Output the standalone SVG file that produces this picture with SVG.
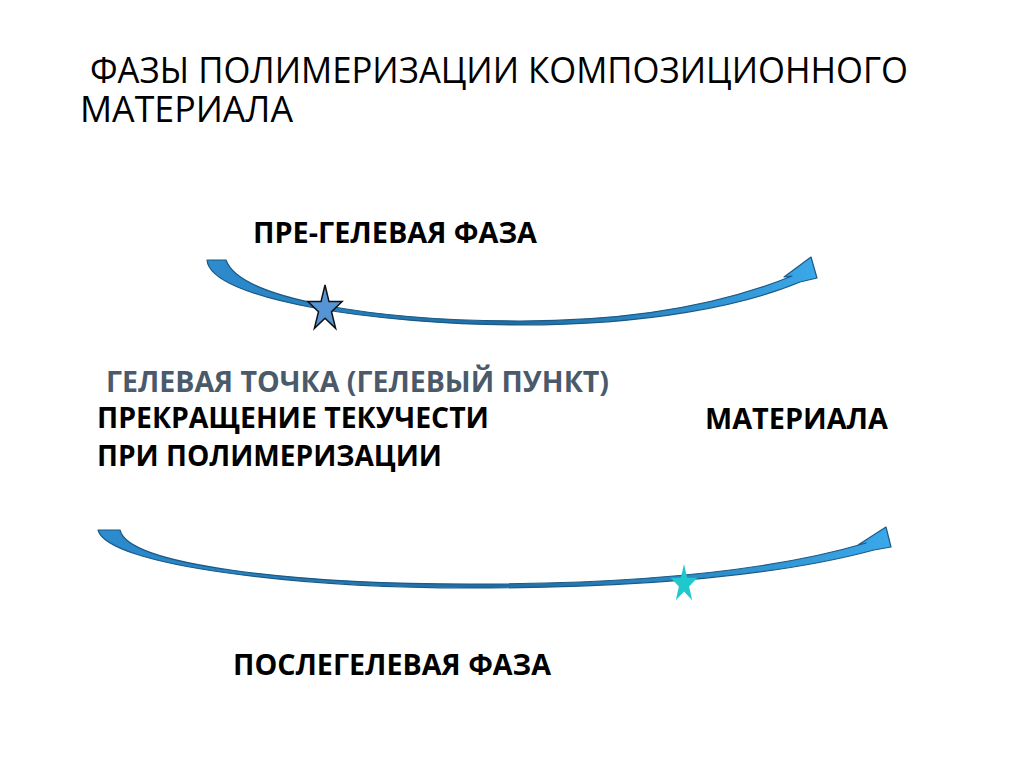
<svg xmlns="http://www.w3.org/2000/svg" width="1024" height="767" viewBox="0 0 1024 767">
<defs>
<style>
.title{font-family:"Open Sans","Liberation Sans",sans-serif;font-size:37px;fill:#000}
.lbl{font-family:"Open Sans","Liberation Sans",sans-serif;font-size:29px;font-weight:bold;fill:#000}
.gray{fill:#4b5a6b}
.arrow{fill:url(#band);stroke:#1c5a85;stroke-width:1.2;stroke-linejoin:round}
</style>
<linearGradient id="band" x1="0" y1="0" x2="1" y2="0">
<stop offset="0" stop-color="#2d8ccf"/>
<stop offset="0.5" stop-color="#1f6ca4"/>
<stop offset="1" stop-color="#3aa8ea"/>
</linearGradient>
</defs>
<rect width="1024" height="767" fill="#fff"/>
<g id="title">
<text class="title" x="90" y="83" textLength="818" lengthAdjust="spacingAndGlyphs">ФАЗЫ ПОЛИМЕРИЗАЦИИ КОМПОЗИЦИОННОГО</text>
<text class="title" x="80" y="122" textLength="213" lengthAdjust="spacingAndGlyphs">МАТЕРИАЛА</text>
</g>
<g id="connectors">
<path id="arrow-pregel" class="arrow" d="M 207,260 C 210,300 380,325 520,325 C 650,325 745,305 800,282 L 817,278 L 811,257 L 784,277 L 792,276 C 738,298 650,321 520,321 C 380,321 240,300 226,260 Z"/>
<path id="arrow-postgel" class="arrow" d="M 98,530 C 108,566 300,588 470,588 C 620,588 770,578 874,550 L 891,547 L 886,527 L 858,545 L 866,543 C 765,573 620,584 470,584 C 300,584 128,566 120,530 Z"/>
</g>
<g id="node-pregel-label">
<text class="lbl" x="253" y="243" textLength="284" lengthAdjust="spacingAndGlyphs">ПРЕ-ГЕЛЕВАЯ ФАЗА</text>
</g>
<g id="node-star-gel">
<polygon points="325,285 329,301.6 342.1,301.6 331.5,311.8 335.6,328.4 325,318.2 314.4,328.4 318.5,311.8 307.9,301.6 321,301.6" fill="#5595d6" stroke="#111" stroke-width="1.5" stroke-linejoin="miter"/>
</g>
<g id="node-gel-point">
<text class="lbl gray" x="106" y="392" textLength="503" lengthAdjust="spacingAndGlyphs">ГЕЛЕВАЯ ТОЧКА (ГЕЛЕВЫЙ ПУНКТ)</text>
<text class="lbl" x="97" y="428" textLength="392" lengthAdjust="spacingAndGlyphs">ПРЕКРАЩЕНИЕ ТЕКУЧЕСТИ</text>
<text class="lbl" x="705" y="429" textLength="183" lengthAdjust="spacingAndGlyphs">МАТЕРИАЛА</text>
<text class="lbl" x="97" y="466" textLength="345" lengthAdjust="spacingAndGlyphs">ПРИ ПОЛИМЕРИЗАЦИИ</text>
</g>
<g id="node-star-post">
<polygon points="684,564 687.1,577.8 697.3,577.8 689.1,586.4 692.2,600.2 684,591.6 675.8,600.2 678.9,586.4 670.7,577.8 680.9,577.8" fill="#1ec8cc"/>
</g>
<g id="node-postgel-label">
<text class="lbl" x="233" y="675" textLength="318" lengthAdjust="spacingAndGlyphs">ПОСЛЕГЕЛЕВАЯ ФАЗА</text>
</g>
</svg>
